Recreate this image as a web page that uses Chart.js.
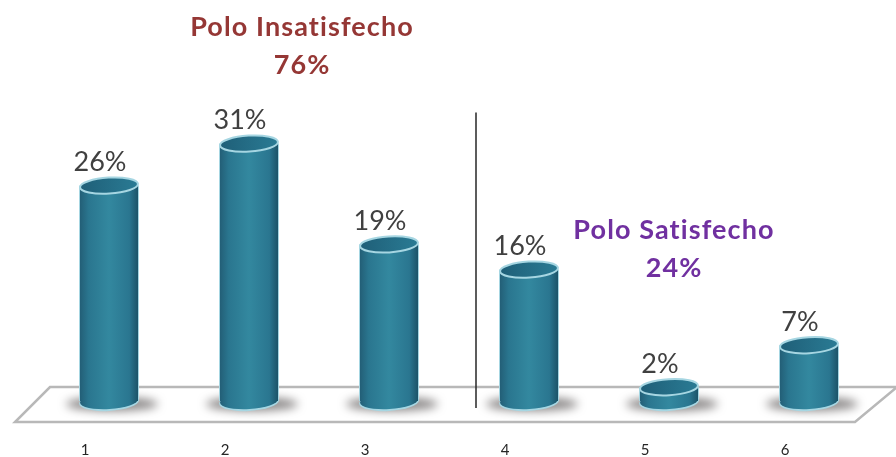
<!DOCTYPE html>
<html>
<head>
<meta charset="utf-8">
<style>
    html, body { margin: 0; padding: 0; background: #fff; }
    #wrap { width: 896px; height: 457px; }
</style>
<script src="https://cdn.jsdelivr.net/npm/chart.js@4"></script>
</head>
<body>
<div id="wrap"><canvas id="barchart" width="896" height="457"></canvas></div>
<script>
var categories = ['1', '2', '3', '4', '5', '6'];
var percentValues = [26, 31, 19, 16, 2, 7];
var poloNotes = [
    { lines: ['Polo Insatisfecho', '76%'], x: 302, y: 27, color: '#953735' },
    { lines: ['Polo Satisfecho', '24%'], x: 674, y: 230, color: '#7030a0' }
];

function tiltedEllipse(ctx, x, y, rx, ry) {
    ctx.beginPath();
    ctx.ellipse(x, y, rx, ry, -0.06, 0, Math.PI * 2);
}

// the floor and the soft shadows go under the bars
var floorPlugin = {
    id: 'floor',
    beforeDatasetsDraw: function (chart) {
        var ctx = chart.ctx;
        var base = chart.scales.y.getPixelForValue(0);
        ctx.save();
        ctx.strokeStyle = '#b8b8b8';
        ctx.lineWidth = 2.5;
        ctx.beginPath();
        ctx.moveTo(897, base - 17);
        ctx.lineTo(50, base - 17);
        ctx.lineTo(15, base + 18);
        ctx.lineTo(855, base + 18);
        ctx.lineTo(897, base - 17);
        ctx.stroke();
        ctx.filter = 'blur(5px)';
        ctx.fillStyle = 'rgba(90, 85, 85, 0.7)';
        chart.getDatasetMeta(0).data.forEach(function (bar) {
            ctx.beginPath();
            ctx.ellipse(bar.x + 3, base, 46, 7, 0, 0, Math.PI * 2);
            ctx.fill();
        });
        ctx.restore();
    }
};

// each bar is drawn as a cylinder from its own element position
var cylinderPlugin = {
    id: 'cylinder',
    afterDatasetsDraw: function (chart) {
        var ctx = chart.ctx;
        var base = chart.scales.y.getPixelForValue(0) - 3;
        ctx.save();
        chart.getDatasetMeta(0).data.forEach(function (bar, i) {
            var rx = bar.width / 2;
            var left = bar.x - rx;
            var ry = 8;

            ctx.fillStyle = '#a6d6e2';
            tiltedEllipse(ctx, bar.x, base + 1, rx + 1, ry + 1);
            ctx.fill();
            ctx.fillRect(left - 1, bar.y, bar.width + 2, base - bar.y);

            var side = ctx.createLinearGradient(left, 0, left + bar.width, 0);
            side.addColorStop(0, '#235f77');
            side.addColorStop(0.15, '#2a768f');
            side.addColorStop(0.5, '#33889f');
            side.addColorStop(0.85, '#2a7690');
            side.addColorStop(1, '#1c5368');
            ctx.fillStyle = side;
            tiltedEllipse(ctx, bar.x, base, rx, ry);
            ctx.fill();
            ctx.fillRect(left, bar.y, bar.width, base - bar.y);

            var top = ctx.createLinearGradient(left, 0, left + bar.width, 0);
            top.addColorStop(0, '#1f5f78');
            top.addColorStop(1, '#2a7b94');
            ctx.fillStyle = top;
            tiltedEllipse(ctx, bar.x, bar.y, rx, ry);
            ctx.fill();
            ctx.strokeStyle = '#a6d6e2';
            ctx.lineWidth = 2;
            ctx.stroke();

            ctx.fillStyle = '#404040';
            ctx.font = '27px Lato';
            ctx.textAlign = 'center';
            ctx.textBaseline = 'middle';
            ctx.fillText(percentValues[i] + '%', bar.x - 9, bar.y - 23);
        });
        ctx.restore();
    }
};

var notesPlugin = {
    id: 'notes',
    afterDraw: function (chart) {
        var ctx = chart.ctx;
        var base = chart.scales.y.getPixelForValue(0);
        var bars = chart.getDatasetMeta(0).data;
        var dividerX = (bars[2].x + bars[3].x) / 2 + 17;
        ctx.save();
        ctx.strokeStyle = '#262626';
        ctx.lineWidth = 1.5;
        ctx.beginPath();
        ctx.moveTo(dividerX, chart.scales.y.getPixelForValue(34.7));
        ctx.lineTo(dividerX, base + 4);
        ctx.stroke();

        ctx.font = 'bold 27px Lato';
        ctx.letterSpacing = '1.1px';
        ctx.textAlign = 'center';
        ctx.textBaseline = 'middle';
        poloNotes.forEach(function (note) {
            ctx.fillStyle = note.color;
            note.lines.forEach(function (line, n) {
                ctx.fillText(line, note.x, note.y + n * 38);
            });
        });
        ctx.restore();
    }
};

new Chart(document.getElementById('barchart').getContext('2d'), {
    type: 'bar',
    data: {
        labels: categories,
        datasets: [{
            data: percentValues,
            backgroundColor: 'transparent',
            borderWidth: 0,
            barThickness: 58
        }]
    },
    options: {
        responsive: false,
        animation: false,
        layout: { padding: { top: 68, left: 39, right: 17, bottom: 0 } },
        plugins: { legend: { display: false }, tooltip: { enabled: false } },
        scales: {
            y: { display: false, min: 0, max: 40 },
            x: {
                grid: { display: false },
                border: { display: false },
                afterFit: function (scale) { scale.height = 53; },
                ticks: {
                    color: '#262626',
                    font: { family: 'Lato', size: 15 },
                    labelOffset: -24,
                    padding: 29,
                    maxRotation: 0
                }
            }
        }
    },
    plugins: [floorPlugin, cylinderPlugin, notesPlugin]
});
</script>
</body>
</html>
